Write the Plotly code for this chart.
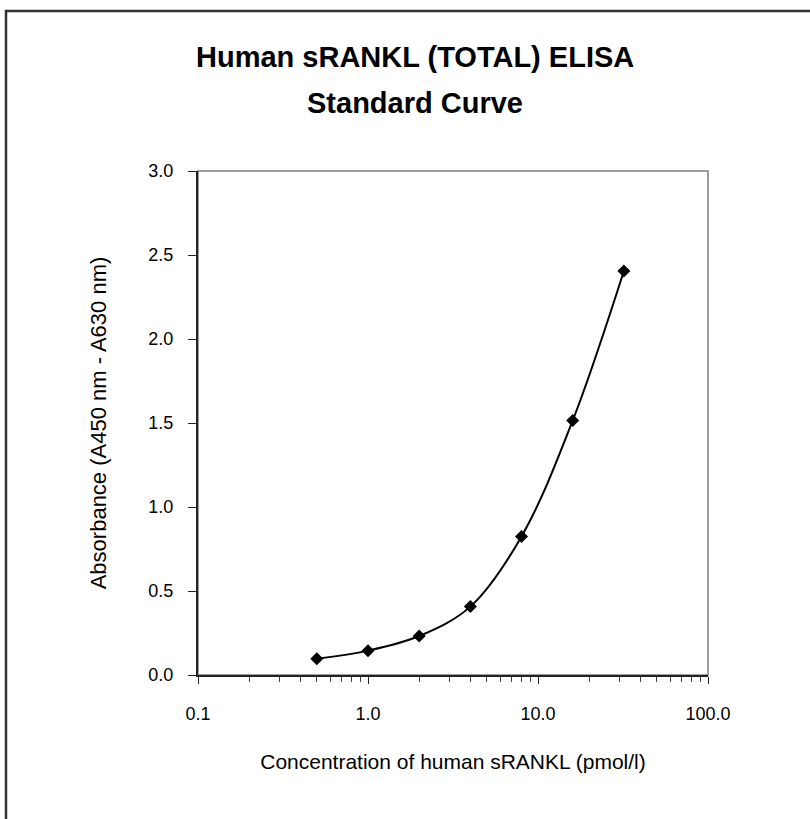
import plotly.graph_objects as go

# Data
concentration = [0.5, 1, 2, 4, 8, 16, 32]
absorbance = [0.097, 0.145, 0.232, 0.407, 0.825, 1.515, 2.405]

x_tick_vals = [0.1, 1, 10, 100]
x_tick_text = ["0.1", "1.0", "10.0", "100.0"]
y_tick_vals = [0.0, 0.5, 1.0, 1.5, 2.0, 2.5, 3.0]
y_tick_text = ["0.0", "0.5", "1.0", "1.5", "2.0", "2.5", "3.0"]

title_lines = ["Human sRANKL (TOTAL) ELISA", "Standard Curve"]
x_title = "Concentration of human sRANKL (pmol/l)"
y_title = "Absorbance (A450 nm - A630 nm)"

W, H = 810, 819
L, R, T, B = 198, 102, 171, 144
pw, ph = W - L - R, H - T - B

def px_x(p):
    return (p - L) / pw

def px_y(p):
    return (H - B - p) / ph

FONT = "Liberation Sans, Arial, sans-serif"

fig = go.Figure()
fig.add_trace(go.Scatter(
    x=concentration, y=absorbance, mode="lines+markers",
    line=dict(color="black", width=2, shape="spline", smoothing=1),
    marker=dict(symbol="diamond", size=10, color="black"),
    showlegend=False,
))

title_y_px = [57, 103]

fig.update_layout(
    width=W, height=H,
    margin=dict(l=L, r=R, t=T, b=B),
    paper_bgcolor="white", plot_bgcolor="white",
    font=dict(family=FONT, color="black"),
    xaxis=dict(
        type="log", range=[-1, 2],
        tickvals=x_tick_vals, ticktext=x_tick_text,
        ticks="outside", ticklen=7, tickcolor="#222", tickwidth=1,
        showline=True, linecolor="#222", linewidth=2,
        showgrid=False, zeroline=False,
        tickfont=dict(size=18),
        ticklabelstandoff=14,
        minor=dict(ticks="outside", ticklen=5, tickcolor="#444", dtick="D1", showgrid=False),
        title=dict(text=x_title, font=dict(size=21), standoff=32),
    ),
    yaxis=dict(
        range=[0, 3],
        tickvals=y_tick_vals, ticktext=y_tick_text,
        ticks="outside", ticklen=8, tickcolor="#222", tickwidth=1,
        showline=True, linecolor="#222", linewidth=2,
        showgrid=False, zeroline=False,
        tickfont=dict(size=18),
        ticklabelstandoff=11,
        title=dict(text=y_title, font=dict(size=22), standoff=36),
    ),
    shapes=[
        # plot-area frame (gray top and right)
        dict(type="rect", xref="paper", yref="paper", x0=0, y0=0, x1=1, y1=1,
             line=dict(color="#808080", width=1.5), layer="below"),
        # outer chart border (left and top)
        dict(type="path", xref="paper", yref="paper",
             path=f"M {px_x(6)} {px_y(H + 20)} L {px_x(6)} {px_y(11)} L {px_x(W + 20)} {px_y(11)}",
             line=dict(color="#333333", width=2.5)),
    ],
    annotations=[
        dict(text="<b>" + line + "</b>",
             xref="paper", yref="paper", x=px_x(415), y=px_y(yp),
             xanchor="center", yanchor="middle", showarrow=False,
             font=dict(family=FONT, size=29, color="black"))
        for line, yp in zip(title_lines, title_y_px)
    ],
)

fig.write_html(
    "out.html",
    config={"displayModeBar": False},
    post_script="document.body.style.margin='0';window.dispatchEvent(new Event('resize'));",
)
